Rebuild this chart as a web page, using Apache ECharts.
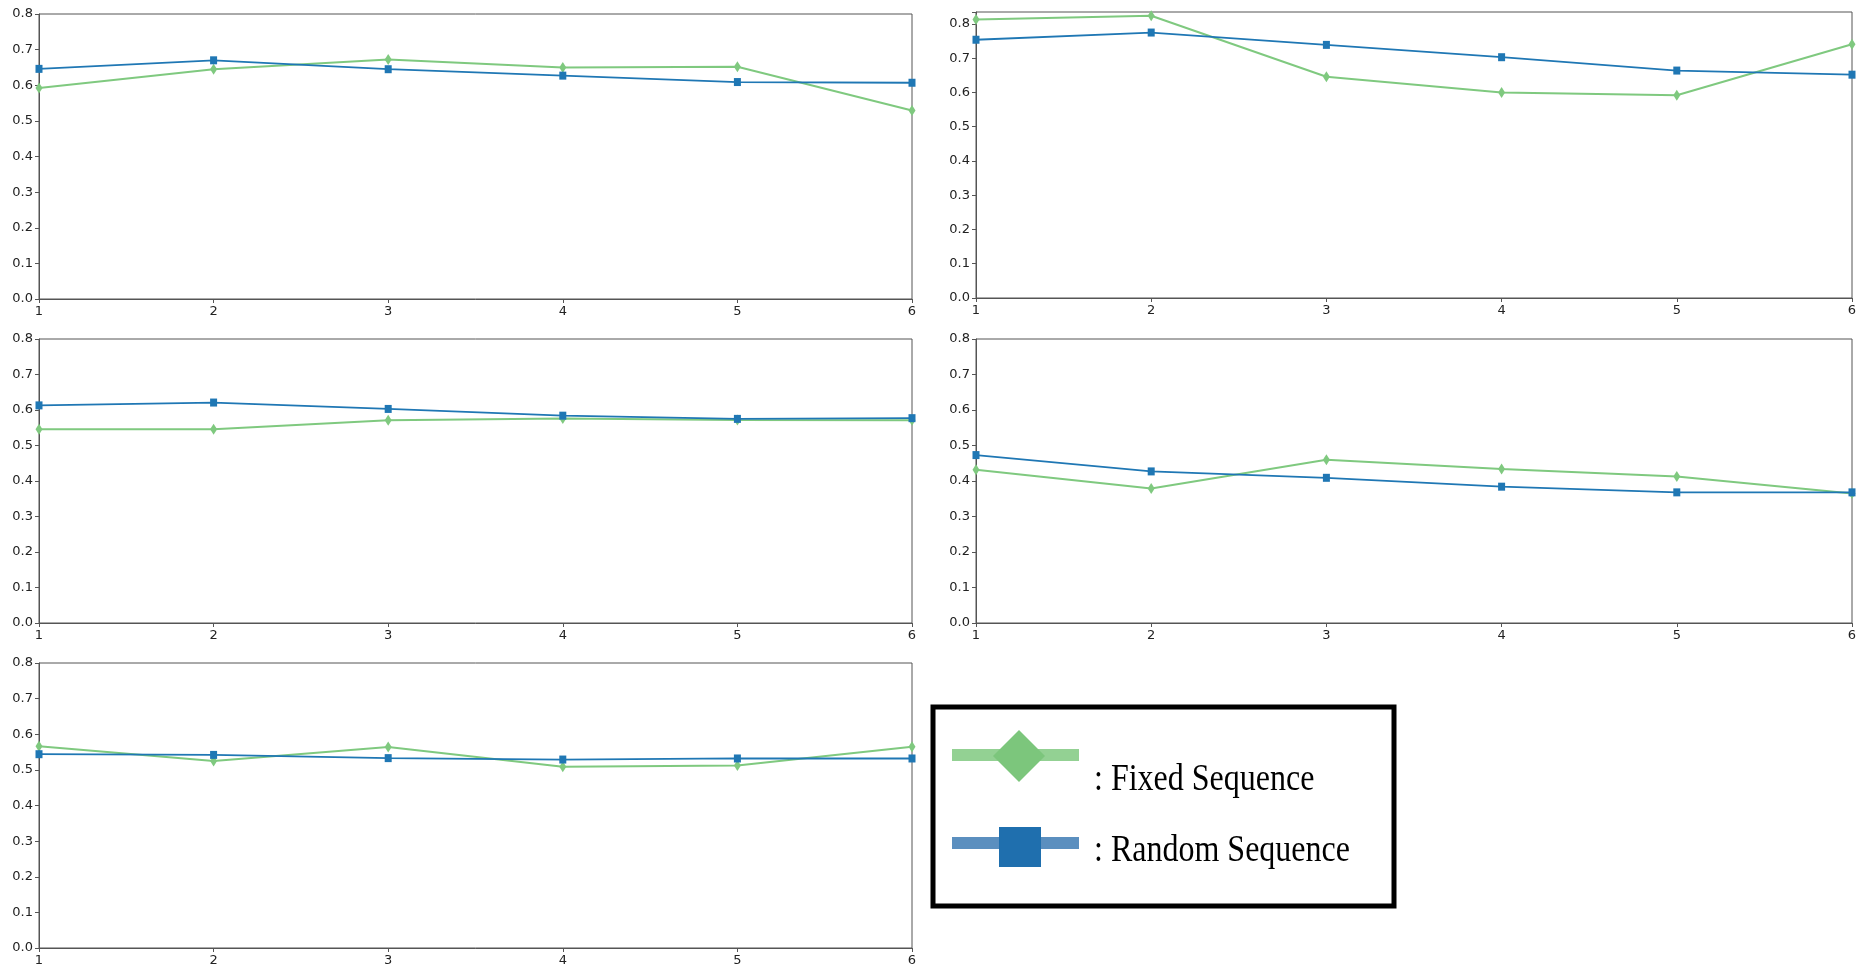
<!DOCTYPE html>
<html>
<head>
<meta charset="utf-8">
<script src="https://cdn.jsdelivr.net/npm/echarts@6/dist/echarts.min.js"></script>
<style>
html,body{margin:0;padding:0;background:#fff;}
#chart{width:1867px;height:969px;}
</style>
</head>
<body>
<div id="chart"></div>
<script>
// ---- data ----
const xValues = [1, 2, 3, 4, 5, 6];
const yTickMax = [0.8, 0.835, 0.8, 0.8, 0.8];
const fixedP1 = [0.592, 0.645, 0.672, 0.650, 0.652, 0.529];
const randomP1 = [0.646, 0.670, 0.645, 0.627, 0.609, 0.607];
const fixedP2 = [0.813, 0.824, 0.646, 0.600, 0.592, 0.741];
const randomP2 = [0.754, 0.775, 0.739, 0.703, 0.664, 0.652];
const fixedP3 = [0.546, 0.546, 0.571, 0.576, 0.572, 0.571];
const randomP3 = [0.613, 0.621, 0.603, 0.584, 0.575, 0.577];
const fixedP4 = [0.432, 0.379, 0.460, 0.434, 0.413, 0.365];
const randomP4 = [0.473, 0.427, 0.409, 0.384, 0.368, 0.368];
const fixedP5 = [0.566, 0.525, 0.564, 0.509, 0.512, 0.565];
const randomP5 = [0.544, 0.542, 0.533, 0.529, 0.532, 0.532];
const seriesNames = ['Fixed Sequence', 'Random Sequence'];
const legendLabels = [': Fixed Sequence', ': Random Sequence'];

const fixedAll = [fixedP1, fixedP2, fixedP3, fixedP4, fixedP5];
const randomAll = [randomP1, randomP2, randomP3, randomP4, randomP5];

// ---- layout ----
const grids = [
  {left: 39, top: 14, width: 873, height: 285},
  {left: 976, top: 12, width: 876, height: 286},
  {left: 39, top: 339, width: 873, height: 284},
  {left: 976, top: 339, width: 876, height: 284},
  {left: 39, top: 663, width: 873, height: 285}
];
const GREEN = '#7fc97f';
const BLUE = '#1f77b4';
const AXIS = '#555';
const labelFont = {fontFamily: 'DejaVu Sans', fontSize: 13, color: '#222'};

const option = {
  animation: false,
  backgroundColor: '#fff',
  grid: grids.map(g => Object.assign({show: true, borderColor: AXIS, borderWidth: 1, backgroundColor: '#fff'}, g)),
  xAxis: grids.map((g, i) => ({
    type: 'value', gridIndex: i, min: 1, max: 6, interval: 1,
    splitLine: {show: false},
    axisLine: {show: true, onZero: false, lineStyle: {color: AXIS}},
    axisTick: {show: true, length: 4, lineStyle: {color: AXIS}},
    axisLabel: Object.assign({margin: 6, formatter: v => String(Math.round(v))}, labelFont)
  })),
  yAxis: grids.map((g, i) => ({
    type: 'value', gridIndex: i, min: 0, max: yTickMax[i], interval: 0.1,
    splitLine: {show: false},
    axisLine: {show: true, onZero: false, lineStyle: {color: AXIS}},
    axisTick: {show: true, length: 4, lineStyle: {color: AXIS}},
    axisLabel: Object.assign({margin: 6, formatter: v => {
      if (Math.abs(v * 10 - Math.round(v * 10)) > 1e-6) return '';
      return v.toFixed(1);
    }}, labelFont)
  })),
  series: []
};

for (let i = 0; i < 5; i++) {
  option.series.push({
    name: seriesNames[0], type: 'line', xAxisIndex: i, yAxisIndex: i,
    data: xValues.map((x, k) => [x, fixedAll[i][k]]),
    symbol: 'diamond', symbolSize: [7, 11],
    itemStyle: {color: GREEN},
    lineStyle: {color: GREEN, width: 2},
    z: 2
  });
  option.series.push({
    name: seriesNames[1], type: 'line', xAxisIndex: i, yAxisIndex: i,
    data: xValues.map((x, k) => [x, randomAll[i][k]]),
    symbol: 'rect', symbolSize: [7, 8],
    itemStyle: {color: BLUE},
    lineStyle: {color: BLUE, width: 1.8},
    z: 3
  });
}

// legend box drawn as graphic
option.graphic = [
  {type: 'rect', shape: {x: 933, y: 707, width: 461, height: 199},
   style: {fill: '#fff', stroke: '#000', lineWidth: 5}},
  {type: 'rect', shape: {x: 952, y: 749, width: 127, height: 12}, style: {fill: '#93d193'}},
  {type: 'polygon', shape: {points: [[1019, 730], [1045, 756], [1019, 782], [993, 756]]}, style: {fill: '#7cc67c'}},
  {type: 'rect', shape: {x: 952, y: 837, width: 127, height: 12}, style: {fill: '#5b8fbf'}},
  {type: 'rect', shape: {x: 999, y: 827, width: 42, height: 40}, style: {fill: '#1f6fae'}},
  {type: 'text', x: 1094, y: 761, scaleY: 1.2,
   style: {text: legendLabels[0], font: '32px "Liberation Serif"', fill: '#000', verticalAlign: 'top'}},
  {type: 'text', x: 1094, y: 832, scaleY: 1.2,
   style: {text: legendLabels[1], font: '32px "Liberation Serif"', fill: '#000', verticalAlign: 'top'}}
];

const chart = echarts.init(document.getElementById('chart'), null, {renderer: 'canvas'});
chart.setOption(option);
</script>
</body>
</html>
